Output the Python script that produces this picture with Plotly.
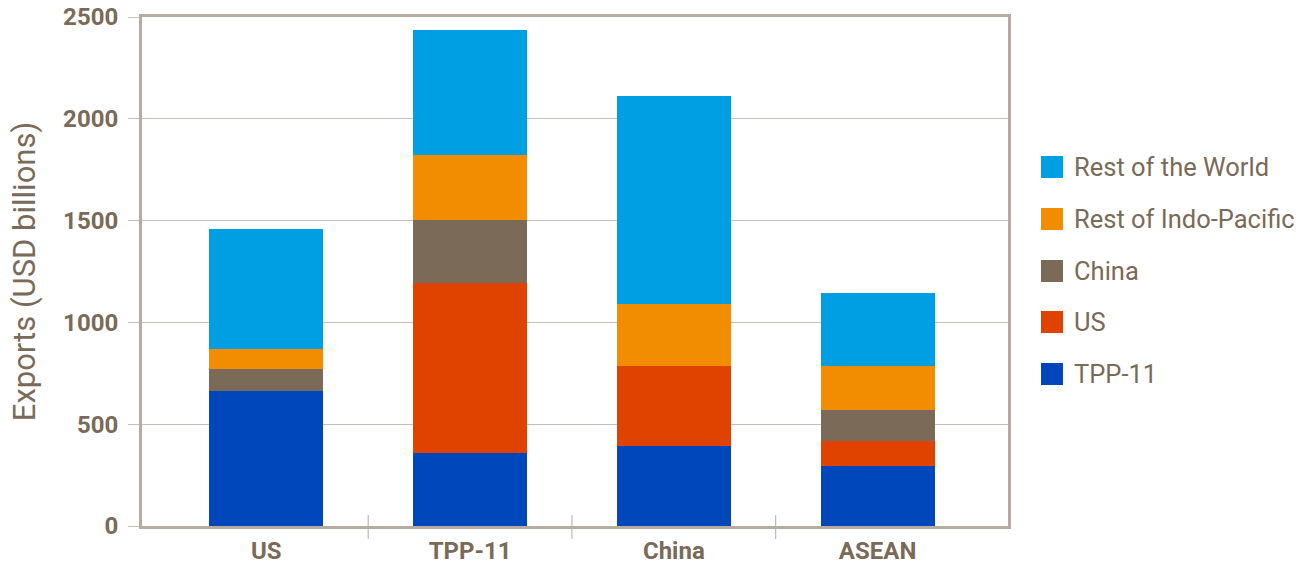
import plotly.graph_objects as go

categories = ["US", "TPP-11", "China", "ASEAN"]
series_names = ["TPP-11", "US", "China", "Rest of Indo-Pacific", "Rest of the World"]
tpp11 = [661, 358, 391, 293]
us = [0, 836, 393, 124]
china = [108, 309, 0, 151]
rest_indo_pacific = [99, 320, 305, 216]
rest_of_world = [590, 613, 1023, 359]
y_ticks = [0, 500, 1000, 1500, 2000, 2500]

series_values = [tpp11, us, china, rest_indo_pacific, rest_of_world]
colors = ["#0047BB", "#E04300", "#7B6A58", "#F28C00", "#009FE3"]

TEXT = "#7a6a58"
FRAME = "#b5aba1"
GRID = "#c8bdb5"
FONT = "Roboto"

W, H = 1308, 566
ML, MR, MT, MB = 142, 300, 17, 40
PW, PH = W - ML - MR, H - MT - MB


def px_x(px):
    return (px - ML) / PW


def px_y(py):
    return (H - MB - py) / PH


fig = go.Figure()
for name, vals, col in zip(series_names, series_values, colors):
    fig.add_trace(go.Bar(
        x=categories, y=vals, name=name, marker=dict(color=col, line=dict(width=0)),
        width=0.56, showlegend=False,
    ))

# manual legend (top to bottom: reverse of stack order)
legend_centers = [167, 219, 271, 322, 374]
for (name, col), cy in zip(list(zip(series_names, colors))[::-1], legend_centers):
    fig.add_shape(type="rect", xref="paper", yref="paper",
                  x0=px_x(1041), x1=px_x(1063), y0=px_y(cy + 11), y1=px_y(cy - 11),
                  fillcolor=col, line=dict(width=0))
    fig.add_annotation(xref="paper", yref="paper", x=px_x(1072), y=px_y(cy),
                       text=name, showarrow=False, xanchor="left", yanchor="middle",
                       font=dict(family=FONT, size=25.5, color=TEXT))

# separator ticks crossing x axis
for xs in [0.5, 1.5, 2.5]:
    fig.add_shape(type="line", xref="x", yref="paper", x0=xs, x1=xs,
                  y0=px_y(539), y1=px_y(515), line=dict(color=FRAME, width=1))

fig.update_layout(
    width=W, height=H, barmode="stack",
    margin=dict(l=ML, r=MR, t=MT, b=MB, pad=0, autoexpand=False),
    plot_bgcolor="white", paper_bgcolor="white",
    font=dict(family=FONT, color=TEXT),
    bargap=0,
)
fig.update_xaxes(
    type="category", range=[-0.61, 3.64], automargin=False,
    showline=True, linecolor=FRAME, linewidth=3, mirror=True,
    ticks="outside", ticklen=1, tickcolor="rgba(0,0,0,0)",
    tickfont=dict(family=FONT, size=24, color=TEXT, weight="bold"),
    showgrid=False, zeroline=False,
)
fig.update_yaxes(
    range=[0, 2500], tickvals=y_ticks, ticktext=[str(v) for v in y_ticks], automargin=False,
    showline=True, linecolor=FRAME, linewidth=3, mirror=True,
    ticks="outside", ticklen=11, tickcolor=GRID, tickwidth=1, ticklabelstandoff=5,
    tickfont=dict(family=FONT, size=24, color=TEXT, weight="bold"),
    showgrid=True, gridcolor=GRID, gridwidth=1, zeroline=False,
    title=dict(text="Exports (USD billions)", font=dict(family=FONT, size=31, color=TEXT), standoff=19),
)

fig.write_html("out.html")
